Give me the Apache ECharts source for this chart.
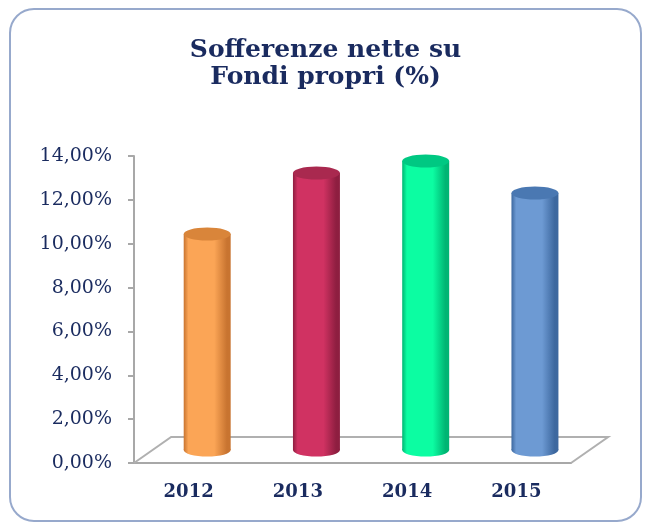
<!DOCTYPE html>
<html>
<head>
<meta charset="utf-8">
<script src="https://cdn.jsdelivr.net/npm/echarts@6/dist/echarts.min.js"></script>
<style>
  html, body { margin: 0; padding: 0; background: #fff; }
  #container { width: 651px; height: 525px; }
</style>
</head>
<body>
<div id="container"></div>
<script>
var years = ['2012', '2013', '2014', '2015'];
var values = [9.85, 12.63, 13.18, 11.72];
// body edge, body centre, top cap
var barColors = [
    ['#c87430', '#fba556', '#d9853a'],
    ['#8e1e40', '#d03262', '#a9294f'],
    ['#00b573', '#0cfda2', '#00c882'],
    ['#3d689f', '#6d9ad3', '#4a78b2']
];

var navy = '#1a2b5f';
var dom = document.getElementById('container');
var myChart = echarts.init(dom, null, { renderer: 'canvas' });

function fmtPct(v) {
    return v.toFixed(2).replace('.', ',') + '%';
}

myChart.setOption({
    backgroundColor: '#fff',
    animation: false,
    graphic: [{
        type: 'rect',
        z: -10,
        shape: { x: 10, y: 9, width: 631, height: 512, r: 24 },
        style: { fill: '#fff', stroke: '#97a9cc', lineWidth: 2 }
    }],
    title: {
        text: 'Sofferenze nette su\nFondi propri (%)',
        left: 'center',
        top: 32,
        textStyle: {
            fontFamily: 'DejaVu Serif',
            fontWeight: 'bold',
            fontSize: 25,
            lineHeight: 27,
            color: navy
        }
    },
    grid: { left: 134, right: 80, top: 156, bottom: 62 },
    xAxis: {
        type: 'category',
        data: years,
        axisLine: { lineStyle: { color: '#a8a8a8', width: 2 } },
        axisTick: { length: 8, lineStyle: { color: '#a8a8a8', width: 2 } },
        axisLabel: {
            margin: 20,
            fontFamily: 'DejaVu Serif',
            fontWeight: 'bold',
            fontSize: 18,
            color: navy
        }
    },
    yAxis: {
        type: 'value',
        min: 0,
        max: 14,
        interval: 2,
        splitLine: { show: false },
        axisLine: { show: true, lineStyle: { color: '#a8a8a8', width: 2 } },
        axisTick: { show: true, length: 6, lineStyle: { color: '#a8a8a8', width: 2 } },
        axisLabel: {
            margin: 22,
            fontFamily: 'DejaVu Serif',
            fontSize: 19,
            color: navy,
            formatter: fmtPct
        }
    },
    series: [
        {
            // the 3D floor
            type: 'custom',
            z: 1,
            silent: true,
            data: [[0, 0]],
            renderItem: function (params, api) {
                var cs = params.coordSys;
                var band = cs.width / years.length;
                var dx = band * 0.34;
                var dy = dx * 0.7;
                var yb = cs.y + cs.height;
                return {
                    type: 'polyline',
                    shape: {
                        points: [
                            [cs.x, yb],
                            [cs.x + dx, yb - dy],
                            [cs.x + cs.width + dx, yb - dy],
                            [cs.x + cs.width, yb]
                        ]
                    },
                    style: { fill: null, stroke: '#b0b0b0', lineWidth: 2 }
                };
            }
        },
        {
            // cylinders
            type: 'custom',
            z: 2,
            data: values.map(function (v, i) { return [i, v]; }),
            renderItem: function (params, api) {
                var idx = api.value(0);
                var base = api.coord([idx, 0]);
                var top = api.coord([idx, api.value(1)]);
                var band = api.size([1, 0])[0];
                var dx = band * 0.34;
                var dy = dx * 0.7;
                var w = band * 0.43;
                var ry = w * 0.14;
                var cx = base[0] + dx / 2;
                var y0 = base[1] - dy / 2;
                var y1 = top[1] - dy / 2;
                var c = barColors[idx];
                var grad = new echarts.graphic.LinearGradient(0, 0, 1, 0, [
                    { offset: 0, color: c[0] },
                    { offset: 0.1, color: c[1] },
                    { offset: 0.65, color: c[1] },
                    { offset: 0.92, color: c[0] },
                    { offset: 1, color: c[0] }
                ]);
                return {
                    type: 'group',
                    children: [
                        {
                            type: 'ellipse',
                            shape: { cx: cx, cy: y0, rx: w / 2, ry: ry },
                            style: { fill: grad }
                        },
                        {
                            type: 'rect',
                            shape: { x: cx - w / 2, y: y1, width: w, height: y0 - y1 },
                            style: { fill: grad }
                        },
                        {
                            type: 'ellipse',
                            shape: { cx: cx, cy: y1, rx: w / 2, ry: ry },
                            style: { fill: c[2] }
                        }
                    ]
                };
            }
        }
    ]
});

window.addEventListener('resize', function () {
    myChart.resize();
});
</script>
</body>
</html>
